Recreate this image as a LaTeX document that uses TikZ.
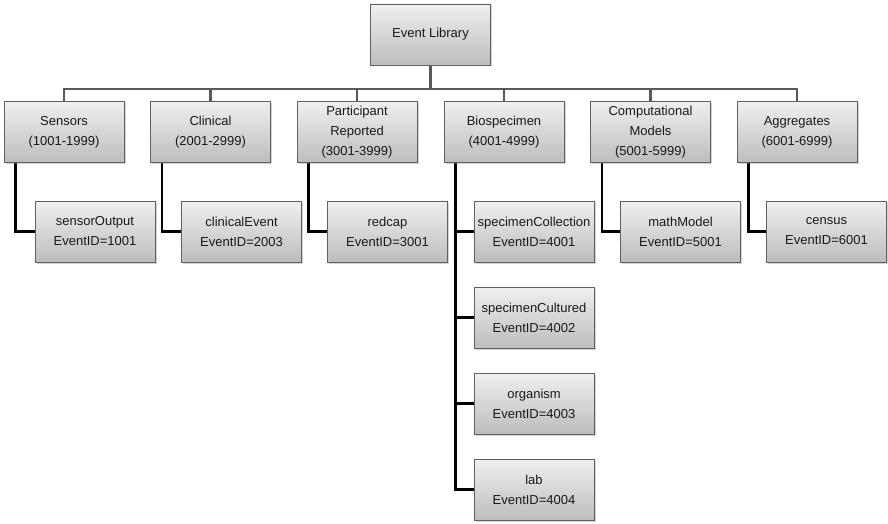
\documentclass[tikz,border=0pt]{standalone}
\usepackage{fontspec}
\setmainfont{Liberation Sans}
\usetikzlibrary{shadows,backgrounds}
\begin{document}
\begin{tikzpicture}[x=1pt,y=-1pt,
  box/.style={draw=gray!75!black, line width=0.8pt, top color=gray!12, bottom color=gray!52,
    minimum width=120pt, minimum height=61pt, align=center, inner sep=1pt,
    font=\fontsize{13}{20}\selectfont, text=black!90,
    drop shadow={shadow xshift=1.5pt, shadow yshift=-1.5pt, opacity=0.35}},
  bus/.style={draw=gray!70!black, line width=2.6pt},
  link/.style={draw=black, line width=2.6pt}]
\useasboundingbox (0,0) rectangle (888,524);
\node[box] (lib) at (430.5,34.5) {Event Library};
\node[box] (s) at (64,132) {Sensors\\(1001-1999)};
\node[box] (c) at (210.5,132) {Clinical\\(2001-2999)};
\node[box] (p) at (357,132) {Participant\\Reported\\(3001-3999)};
\node[box] (b) at (504,132) {Biospecimen\\(4001-4999)};
\node[box] (m) at (650.5,132) {Computational\\Models\\(5001-5999)};
\node[box] (a) at (797,132) {Aggregates\\(6001-6999)};
\node[box] (s1) at (95,231.5) {sensorOutput\\EventID=1001};
\node[box] (c1) at (241.5,231.5) {clinicalEvent\\EventID=2003};
\node[box] (p1) at (387.5,231.5) {redcap\\EventID=3001};
\node[box] (b1) at (534,231.5) {specimenCollection\\EventID=4001};
\node[box] (b2) at (534,317.5) {specimenCultured\\EventID=4002};
\node[box] (b3) at (534,403.5) {organism\\EventID=4003};
\node[box] (b4) at (534,489.5) {lab\\EventID=4004};
\node[box] (m1) at (680.5,231.5) {mathModel\\EventID=5001};
\node[box] (a1) at (826.5,231.5) {census\\EventID=6001};
\coordinate (busy) at (0,89);
\coordinate (bt) at ([xshift=12pt]b.south west);
\begin{scope}[on background layer]
\draw[bus] (lib.south) -- (lib.south |- busy);
\draw[bus] (s.north) -- (s.north |- busy) -- (a.north |- busy) -- (a.north);
\foreach \n in {c,p,b,m} \draw[bus] (\n.north |- busy) -- (\n.north);
\foreach \n/\k in {s/s1,c/c1,p/p1,m/m1,a/a1}
  \draw[link] ([xshift=12pt]\n.south west) |- (\k.west);
\draw[link] (bt) |- (b4.west);
\foreach \k in {b1,b2,b3}
  \draw[link] (\k.west) -- (\k.west -| bt);
\end{scope}
\end{tikzpicture}
\end{document}
